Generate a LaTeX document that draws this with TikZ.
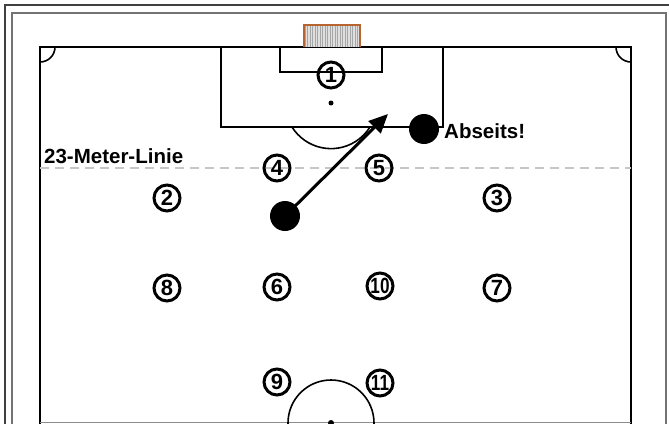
\documentclass[tikz,border=0pt]{standalone}
\usepackage{graphicx}
\usepackage{fontspec}
\setmainfont{Liberation Sans}
\usetikzlibrary{arrows.meta}
\definecolor{goalbrown}{HTML}{B8642E}
\newcommand{\twodig}[1]{\scalebox{0.78}[1]{#1}}
\tikzset{
  fieldline/.style={line width=1.6pt, black},
  player/.style={circle, draw, line width=3pt, minimum size=26pt, inner sep=0pt,
    font=\fontsize{22}{22}\selectfont\bfseries},
  ball/.style={circle, fill=black, minimum size=30pt, inner sep=0pt},
  lbl/.style={font=\fontsize{20.5}{21}\selectfont\bfseries, inner sep=0pt},
  mover/.style={line width=3pt, -{Triangle[length=19pt,width=17pt]}},
}
\begin{document}
\begin{tikzpicture}[x=1pt,y=-1pt]
\useasboundingbox (0,0) rectangle (669,423);
\clip (0,0) rectangle (669,423);
\fill[white] (0,0) rectangle (669,423);
% frames of the screenshot
\draw[line width=1.2pt, black!75] (5,430) -- (5,5) -- (675,5);
\draw[line width=1.2pt, black!55] (12,430) -- (12,13) -- (666,13) -- (666,430);
% field
\draw[fieldline] (40,430) -- (40,47) -- (631,47) -- (631,430);
\draw[line width=1pt, black!45] (40,422) -- (631,422);
\draw[fieldline] (40,62) arc[start angle=90, end angle=0, radius=15];
\draw[fieldline] (616,47) arc[start angle=180, end angle=90, radius=15];
% penalty area
\draw[fieldline] (221,47) -- (221,127) -- (443,127) -- (443,47);
\draw[fieldline] (280,47) -- (280,72) -- (382,72) -- (382,47);
\fill (331,103) circle (2.5);
\draw[fieldline] (292,127) arc[start angle=148, end angle=32, radius=46];
% goal
\fill[gray!25] (304,25) rectangle (360,47);
\draw[gray!70, line width=0.4pt, step=2.5] (304,25) grid (360,47);
\draw[goalbrown, line width=1.4pt] (304,47) -- (304,25) -- (360,25) -- (360,47);
% centre circle
\draw[fieldline] (331,423) circle (43);
\fill (331,423) circle (3);
% 23 m line
\draw[line width=1.8pt, gray!45, dash pattern=on 9pt off 6pt] (40,168) -- (631,168);
\node[lbl, anchor=west] (linie) at (44,156) {23-Meter-Linie};
% players
\node[player] (p1) at (331,75) {1};
\node[player] (p4) at (277,168) {4};
\node[player] (p5) at (379,168) {5};
\node[player] (p2) at (167,198) {2};
\node[player] (p3) at (497,198) {3};
\node[player] (p8) at (167,288) {8};
\node[player] (p6) at (277,287) {6};
\node[player] (p10) at (380,286) {\twodig{10}};
\node[player] (p7) at (497,288) {7};
\node[player] (p9) at (277,382) {9};
\node[player] (p11) at (380,383) {\twodig{11}};
% attackers
\node[ball] (att) at (285,216) {};
\node[ball] (off) at (424,129) {};
\node[lbl, anchor=west] (abseits) at (444,131) {Abseits!};
\coordinate (target) at (388,114);
\draw[mover] (att.center) -- (target);
\end{tikzpicture}
\end{document}
